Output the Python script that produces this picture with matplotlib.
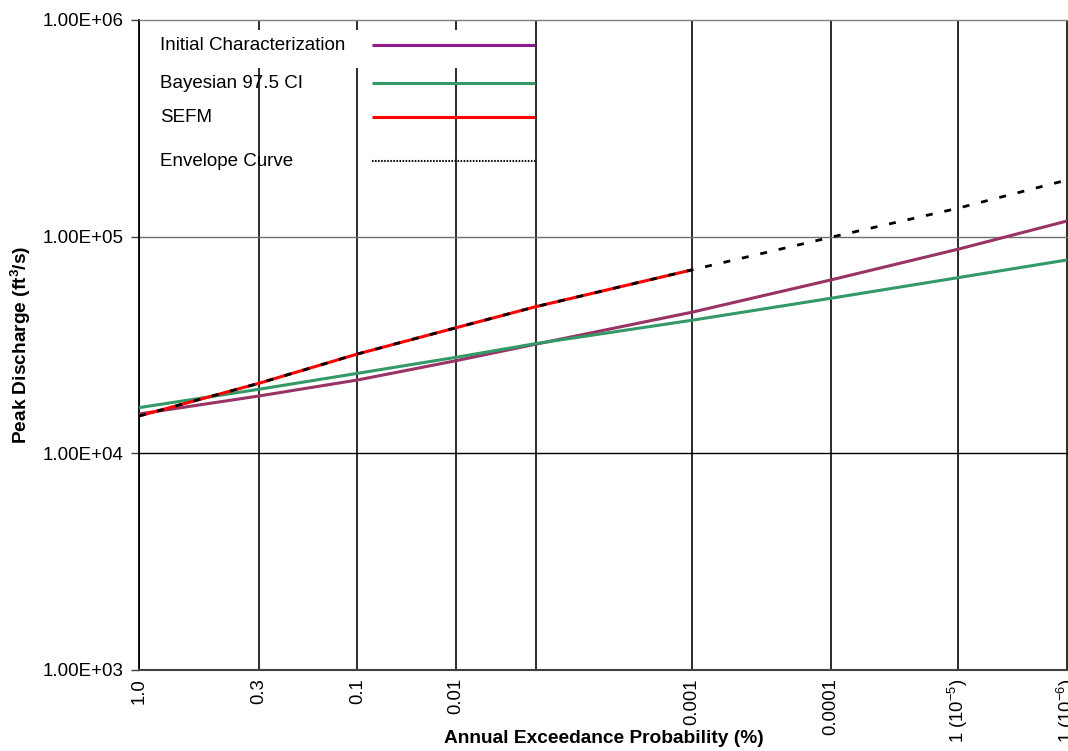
import numpy as np
import matplotlib
matplotlib.use("Agg")
import matplotlib.pyplot as plt
from matplotlib.lines import Line2D
from matplotlib.patches import Rectangle

plt.rcParams['font.family'] = ['Liberation Sans', 'DejaVu Sans']
plt.rcParams['mathtext.fontset'] = 'custom'
plt.rcParams['mathtext.rm'] = 'Liberation Sans'
plt.rcParams['mathtext.it'] = 'Liberation Sans:italic'
plt.rcParams['mathtext.bf'] = 'Liberation Sans:bold'
plt.rcParams['lines.scale_dashes'] = False

# ---------------- data ----------------
# annual exceedance probability (%) at which the curves were read
aep = [1.0, 0.3, 0.1, 0.01, 0.005, 0.001, 0.0001, 1e-5, 1e-6]
initial_char = [15190, 18390, 21800, 26770, 31900, 44770, 63100, 87430, 118100]
bayes_975 = [16250, 19750, 23400, 27750, 32100, 41110, 51940, 64650, 78060]
sefm_aep = [1.0, 0.3, 0.1, 0.01, 0.005, 0.001]
sefm = [14870, 21040, 28740, 38000, 47520, 70200]
envelope = [14870, 21040, 28740, 38000, 47520, 70200, 99300, 135200, 182600]

# x-axis tick values and labels (probability-paper style axis)
tick_aep = [1.0, 0.3, 0.1, 0.01, 0.005, 0.001, 0.0001, 1e-5, 1e-6]
tick_labels = ['1.0', '0.3', '0.1', '0.01', '', '0.001', '0.0001',
               '1 (10$^{-5}$)', '1 (10$^{-6}$)']
y_ticks = [1e3, 1e4, 1e5, 1e6]
y_tick_labels = ['1.00E+03', '1.00E+04', '1.00E+05', '1.00E+06']

# relative positions of the probability grid along the axis (layout of the scale)
grid_pos = np.array([0, 119.7, 218.4, 317, 396.7, 552.4, 691.4, 818.4, 927.7]) / 928.7
grid_u = -np.log10(np.array(tick_aep))


def fwd(x):
    x = np.clip(np.asarray(x, dtype=float), 1e-30, None)
    u = -np.log10(x)
    out = np.interp(u, grid_u, grid_pos)
    s0 = (grid_pos[1] - grid_pos[0]) / (grid_u[1] - grid_u[0])
    s1 = (grid_pos[-1] - grid_pos[-2]) / (grid_u[-1] - grid_u[-2])
    out = np.where(u < grid_u[0], grid_pos[0] + (u - grid_u[0]) * s0, out)
    out = np.where(u > grid_u[-1], grid_pos[-1] + (u - grid_u[-1]) * s1, out)
    return out


def inv(p):
    p = np.asarray(p, dtype=float)
    u = np.interp(p, grid_pos, grid_u)
    s0 = (grid_u[1] - grid_u[0]) / (grid_pos[1] - grid_pos[0])
    s1 = (grid_u[-1] - grid_u[-2]) / (grid_pos[-1] - grid_pos[-2])
    u = np.where(p < grid_pos[0], grid_u[0] + (p - grid_pos[0]) * s0, u)
    u = np.where(p > grid_pos[-1], grid_u[-1] + (p - grid_pos[-1]) * s1, u)
    return 10.0 ** (-u)


W, H = 1068, 751
fig = plt.figure(figsize=(W / 100, H / 100), dpi=100)
ax = fig.add_axes([139 / W, (H - 670) / H, (W - 139) / W, 650 / H])

ax.set_xscale('function', functions=(fwd, inv))
ax.set_yscale('log')
ax.set_xlim(1.0, float(inv(1.0)))
ax.set_ylim(1e3, 1e6)
# make sure 1.0 % sits on the left
p_left = ax.transData.transform((1.0, 1e4))[0]
p_right = ax.transData.transform((1e-6, 1e4))[0]
if p_left > p_right:
    ax.invert_xaxis()

c_purple = '#993366'
c_green = '#339966'
c_red = '#FF0000'

ax.plot(aep, initial_char, color=c_purple, lw=2.2, zorder=3, solid_capstyle='butt')
ax.plot(aep, bayes_975, color=c_green, lw=2.2, zorder=3, solid_capstyle='butt')
ax.plot(sefm_aep, sefm, color=c_red, lw=2.2, zorder=4, solid_capstyle='butt')
ax.plot(aep, envelope, color='black', lw=2.0, zorder=5, linestyle=(0, (5.0, 8.6)),
        dash_capstyle='butt')

# ticks
ax.set_xticks(tick_aep)
ax.set_xticklabels(tick_labels, rotation=90, fontsize=13.3, va='top', ha='center')
ax.xaxis.set_minor_locator(matplotlib.ticker.NullLocator())
ax.tick_params(axis='x', length=0, pad=6)
ax.set_yticks(y_ticks)
ax.set_yticklabels(y_tick_labels, fontsize=13.5)
ax.yaxis.set_minor_locator(matplotlib.ticker.NullLocator())
ax.tick_params(axis='y', length=6, width=1, pad=5, color='#404040')

# grid
for x in tick_aep:
    ax.axvline(x, color='#1a1a1a', lw=1.3, zorder=1)
ax.axhline(1e4, color='black', lw=1.0, zorder=1)
ax.axhline(1e5, color='#707070', lw=1.0, zorder=1)

# spines
ax.spines['right'].set_visible(False)
ax.spines['top'].set_color('#808080')
ax.spines['top'].set_linewidth(1.0)
ax.spines['left'].set_color('black')
ax.spines['left'].set_linewidth(1.3)
ax.spines['bottom'].set_color('#404040')
ax.spines['bottom'].set_linewidth(1.5)

# labels
ax.set_xlabel('Annual Exceedance Probability (%)', fontsize=13.8, fontweight='bold')
ax.xaxis.set_label_coords(0.5, (670 - 730) / 650)
ax.set_ylabel('Peak Discharge (ft$^\\mathbf{3}$/s)', fontsize=13.8, fontweight='bold')
ax.yaxis.set_label_coords((33 - 139) / 929, 0.5)


# legend (text then line sample)
def fx(px):
    return (px - 139) / 929


def fy(py):
    return (670 - py) / 650


ax.add_patch(Rectangle((fx(150), fy(68)), fx(534) - fx(150), fy(30) - fy(68),
                       transform=ax.transAxes, facecolor='white', edgecolor='none',
                       zorder=2))
leg_rows = [
    ('Initial Characterization', 45, dict(color='#8B1A8B', lw=2.2)),
    ('Bayesian 97.5 CI', 83, dict(color=c_green, lw=2.2)),
    ('SEFM', 117, dict(color=c_red, lw=2.2)),
    ('Envelope Curve', 161, dict(color='black', lw=1.5, linestyle=(0, (1.1, 1.1)))),
]
for label, py, style in leg_rows:
    ax.text(fx(160), fy(py), label, transform=ax.transAxes, fontsize=13.5,
            va='center', ha='left', zorder=6)
    ax.add_line(Line2D([fx(372), fx(535)], [fy(py), fy(py)], transform=ax.transAxes,
                       zorder=6, solid_capstyle='butt', **style))

fig.savefig('out.png', dpi=100)
